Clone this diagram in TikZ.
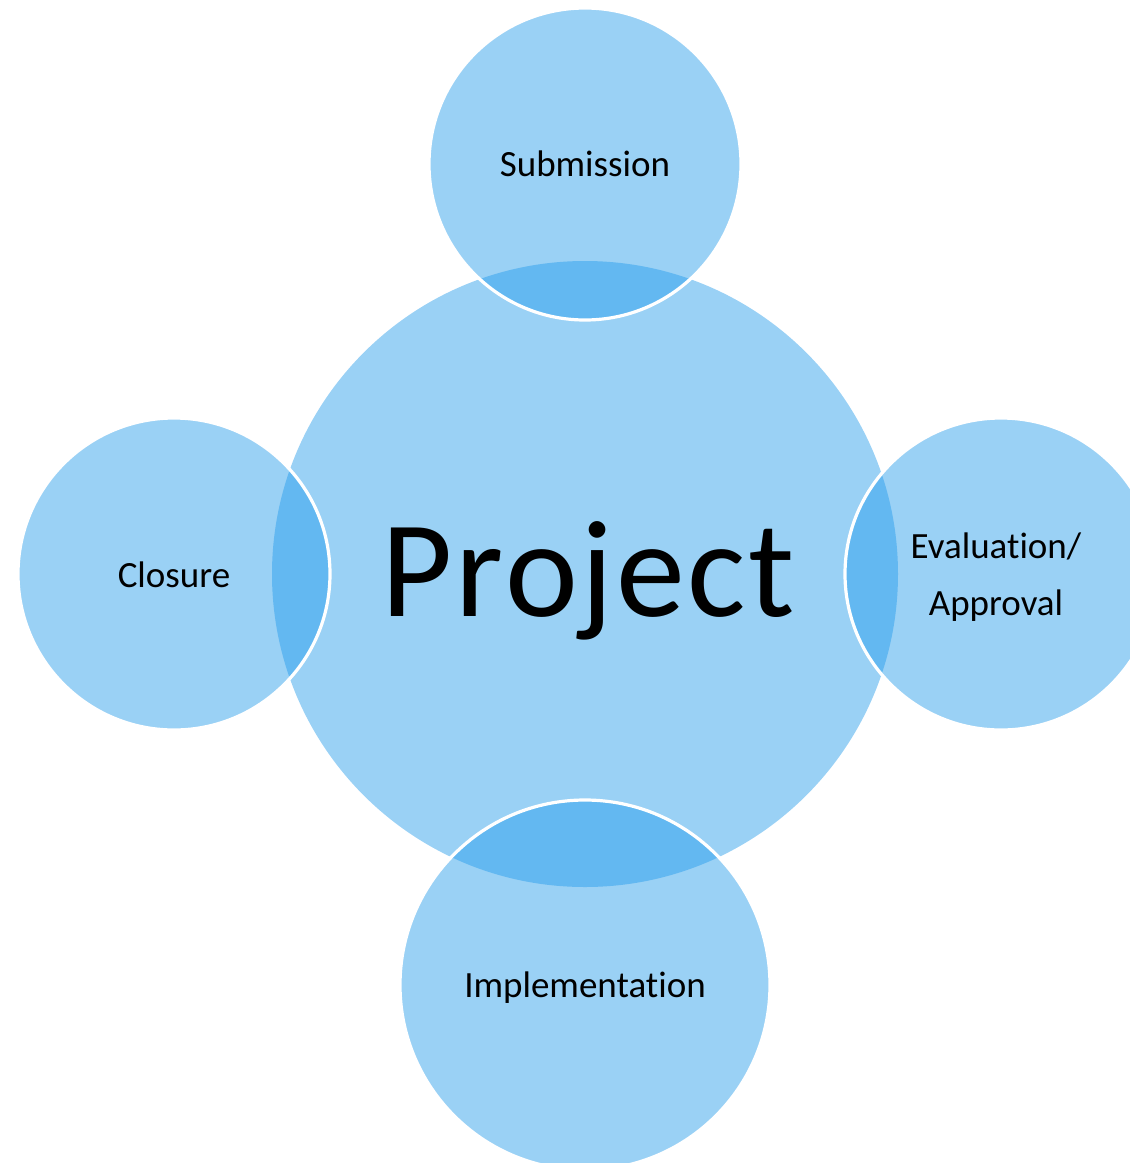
\documentclass[tikz,border=0pt]{standalone}
\usepackage{fontspec}
\setmainfont[Ligatures=NoCommon]{Carlito}
\definecolor{lightblue}{RGB}{154,209,245}
\definecolor{darkblue}{RGB}{99,184,241}
\begin{document}
\begin{tikzpicture}[x=0.5pt,y=-0.5pt,
  disc/.style={circle, inner sep=0pt, fill=lightblue, text=black, align=center},
  smalltxt/.style={font=\fontsize{18.5}{28.5}\selectfont},
  ring/.style={draw=white, line width=1.6pt}]
\useasboundingbox (0,0) rectangle (1130,1163);
\clip (0,0) rectangle (1130,1163);
% central circle
\node[disc, minimum size=313pt] (proj) at (585,574) {};
% satellite circles
\node[disc, minimum size=156pt] (sub) at (585,164) {};
\node[disc, minimum size=156pt] (clo) at (174,574) {};
\node[disc, minimum size=156pt] (eva) at (1001,574) {};
\node[disc, minimum size=185pt] (imp) at (585,985) {};
% overlaps
\foreach \n/\r in {sub/78pt, clo/78pt, eva/78pt, imp/92.5pt}{
  \begin{scope}
    \clip (proj.center) circle[radius=156.5pt];
    \fill[darkblue] (\n.center) circle[radius=\r];
  \end{scope}
  \draw[ring] (\n.center) circle[radius=\r];
}
% labels
\node[font=\fontsize{69}{80}\selectfont] (projt) at (588,581) {P\kern1.2pt r\kern1.2pt o\kern1.2pt j\kern1.2pt e\kern1.2pt c\kern1.2pt t};
\node[smalltxt] (subt) at (585,164) {Submission};
\node[smalltxt] (clot) at (174,575) {Closure};
\node[smalltxt, align=center] (evat) at (996,577) {Evaluation/\\Approval};
\node[smalltxt] (impt) at (585,988) {Implementation};
\end{tikzpicture}
\end{document}
